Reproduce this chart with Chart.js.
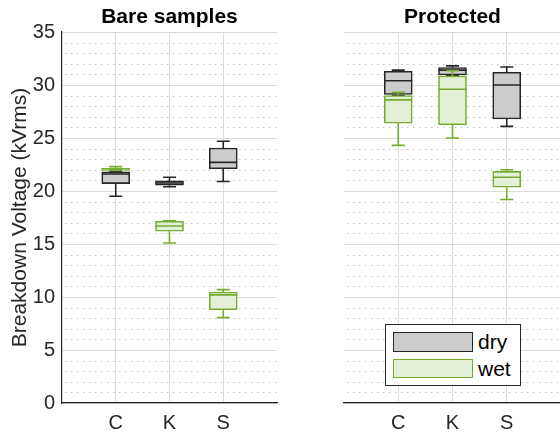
<!DOCTYPE html>
<html>
<head>
<meta charset="utf-8">
<script src="https://cdn.jsdelivr.net/npm/chart.js@4.4.1/dist/chart.umd.min.js"></script>
<style>
  html, body { margin: 0; padding: 0; background: #fff; overflow: hidden; }
  #wrap { position: relative; width: 560px; height: 436px; overflow: hidden;
          font-family: 'Liberation Sans', Arial, sans-serif; color: #000; }
  #left { position: absolute; left: 0; top: 0; }
  #right { position: absolute; left: 290px; top: 0; }
  #legend { position: absolute; left: 385px; top: 324px; width: 136px; height: 62px;
            box-sizing: border-box; border: 1px solid #262626; background: #fff; }
  #legend .sw { position: absolute; left: 7px; width: 80px; box-sizing: border-box; border-width: 1.5px; border-style: solid; }
  #legend .lbl { position: absolute; left: 92px; font-size: 21px; line-height: 24px; }
</style>
</head>
<body>
<div id="wrap">
  <canvas id="left" width="290" height="436"></canvas>
  <canvas id="right" width="271" height="436"></canvas>
  <div id="legend">
    <div class="sw" style="top:7px;height:20px;background:#cccccc;border-color:#262626"></div>
    <div class="lbl" style="top:5px">dry</div>
    <div class="sw" style="top:34px;height:19px;background:#e4efd8;border-color:#77ac30"></div>
    <div class="lbl" style="top:32px">wet</div>
  </div>
</div>
<script>
// categories (x positions 1..3, with empty slots at 0 and 4)
const categories = ['C', 'K', 'S'];
const yTicksMax = 35;

// five-number summaries per category: [min, q1, median, q3, max]
const bareDry = [[19.5, 20.7, 21.6, 21.8, 21.8], [20.4, 20.55, 20.75, 20.95, 21.3], [20.9, 22.1, 22.7, 24.05, 24.7]];
const bareWet = [[21.95, 21.95, 22.1, 22.15, 22.3], [15.1, 16.2, 16.7, 17.15, 17.2], [8.05, 8.8, 10.2, 10.47, 10.7]];
const protDry = [[29.0, 29.1, 30.4, 31.3, 31.4], [30.9, 30.95, 31.4, 31.65, 31.8], [26.1, 26.8, 30.0, 31.2, 31.7]];
const protWet = [[24.3, 26.4, 28.6, 29.0, 29.3], [25.0, 26.25, 29.6, 30.86, 31.35], [19.2, 20.35, 21.3, 21.85, 22.0]];

const font = "'Liberation Sans', Arial, sans-serif";
const axisColor = '#262626';
const gridColor = '#dcdcdc';
const dryFill = '#cccccc', dryLine = '#262626';
const wetFill = '#e4efd8', wetLine = '#77ac30';

const labels = [''].concat(categories, ['']);

function boxData(stats) {
  return [null].concat(stats.map(s => [s[1], s[3]]), [null]);
}

// dotted minor grid every 1 kV
const minorGrid = {
  id: 'minorGrid',
  beforeDatasetsDraw(chart) {
    const { ctx, chartArea: a, scales: { y } } = chart;
    ctx.save();
    ctx.strokeStyle = '#c2c2c2';
    ctx.lineWidth = 1;
    ctx.setLineDash([1.5, 4.5]);
    for (let v = 1; v < yTicksMax; v++) {
      if (v % 5 === 0) continue;
      const py = Math.round(y.getPixelForValue(v)) + 0.5;
      ctx.beginPath();
      ctx.moveTo(a.left + 3, py);
      ctx.lineTo(a.right, py);
      ctx.stroke();
    }
    ctx.restore();
  }
};

// whiskers + median drawn right after each box dataset
const whiskers = {
  id: 'whiskers',
  afterDatasetDraw(chart, args) {
    const ds = chart.data.datasets[args.index];
    const { ctx, scales: { y } } = chart;
    ctx.save();
    ctx.strokeStyle = ds.borderColor;
    ctx.lineWidth = 1.6;
    ds.stats.forEach((s, i) => {
      const el = args.meta.data[i + 1];
      const cx = el.x, half = el.width / 2, cap = 6.5;
      const yMin = y.getPixelForValue(s[0]), yQ1 = y.getPixelForValue(s[1]);
      const yMed = y.getPixelForValue(s[2]), yQ3 = y.getPixelForValue(s[3]);
      const yMax = y.getPixelForValue(s[4]);
      ctx.beginPath();
      ctx.moveTo(cx, yQ3); ctx.lineTo(cx, yMax);
      ctx.moveTo(cx - cap, yMax); ctx.lineTo(cx + cap, yMax);
      ctx.moveTo(cx, yQ1); ctx.lineTo(cx, yMin);
      ctx.moveTo(cx - cap, yMin); ctx.lineTo(cx + cap, yMin);
      ctx.moveTo(cx - half, yMed); ctx.lineTo(cx + half, yMed);
      ctx.stroke();
    });
    ctx.restore();
  }
};

function makePanel(canvasId, title, dry, wet, showY, yWidth, padRight) {
  return new Chart(document.getElementById(canvasId), {
    type: 'bar',
    data: {
      labels: labels,
      datasets: [
        { label: 'dry', data: boxData(dry), stats: dry, backgroundColor: dryFill, borderColor: dryLine,
          borderWidth: 1.6, borderSkipped: false, barThickness: 28, grouped: false, order: 2 },
        { label: 'wet', data: boxData(wet), stats: wet, backgroundColor: wetFill, borderColor: wetLine,
          borderWidth: 1.6, borderSkipped: false, barThickness: 28, grouped: false, order: 1 }
      ]
    },
    options: {
      responsive: false,
      animation: false,
      layout: { padding: { top: 0, right: padRight, bottom: 0, left: 0 } },
      plugins: {
        legend: { display: false },
        tooltip: { enabled: false },
        title: {
          display: true, text: title, fullSize: false, color: '#000',
          font: { family: font, size: 21, weight: 'bold', lineHeight: 1.2 },
          padding: { top: 5, bottom: 1.8 }
        }
      },
      scales: {
        x: {
          offset: false,
          grid: {
            offset: false,
            drawTicks: false,
            color: ctx => (ctx.index === 0 || ctx.index === 4) ? 'rgba(0,0,0,0)' : gridColor
          },
          border: { display: true, color: axisColor, width: 1.2 },
          ticks: { autoSkip: false, maxRotation: 0, padding: 8, color: axisColor, font: { family: font, size: 20 } },
          afterFit: s => { s.height = 33; s.paddingLeft = 0; s.paddingRight = 0; }
        },
        y: {
          min: 0, max: yTicksMax,
          grid: { drawTicks: false, color: gridColor },
          border: { display: showY, color: axisColor, width: 1.2 },
          ticks: { display: showY, stepSize: 5, padding: 7, color: axisColor, font: { family: font, size: 20 } },
          title: {
            display: showY, text: 'Breakdown Voltage (kVrms)', color: axisColor,
            font: { family: font, size: 21, lineHeight: 1.2 }, padding: { top: 8, bottom: 0 }
          },
          afterFit: s => { s.width = yWidth; s.paddingTop = 0; s.paddingBottom = 0; }
        }
      }
    },
    plugins: [minorGrid, whiskers]
  });
}

makePanel('left', 'Bare samples', bareDry, bareWet, true, 62, 13);
makePanel('right', 'Protected', protDry, protWet, false, 54, 0);
</script>
</body>
</html>
